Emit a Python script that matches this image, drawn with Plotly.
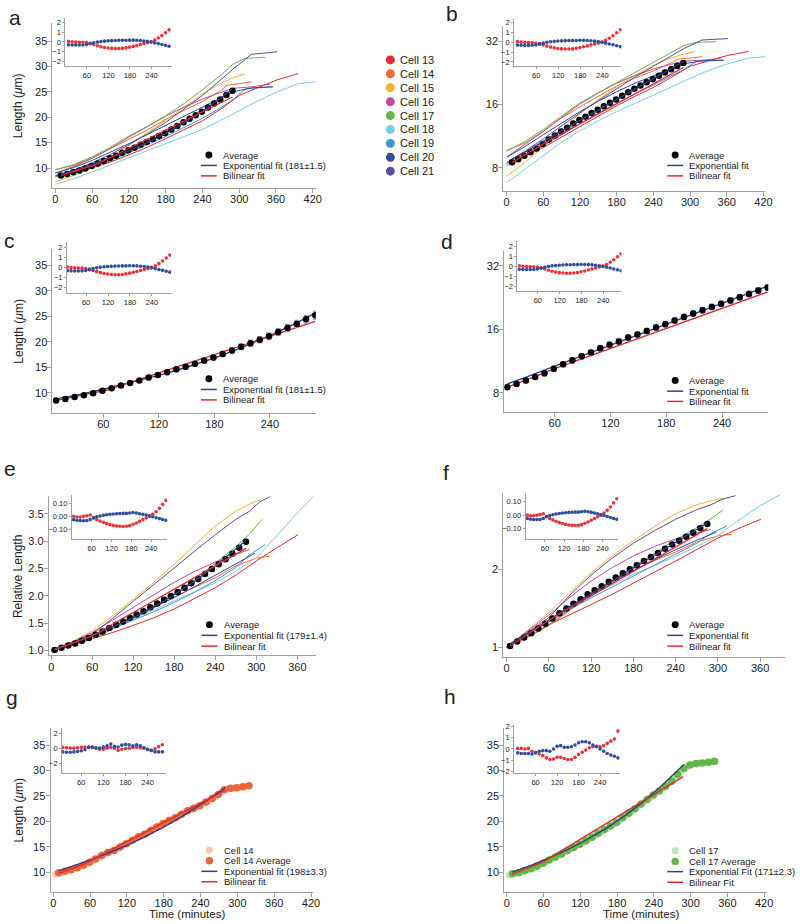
import math
import plotly.graph_objects as go

W, H = 800, 924
FONT = "Liberation Sans, Arial, Helvetica, sans-serif"
AXIS_GRAY = "#a0a0a0"
TXT = "#222222"
EXP_COLOR = "#2d3f8e"
BIL_COLOR = "#e5282d"
RES_RED = "#e8343c"
RES_BLUE = "#2f4ea0"

# ---------------- data ----------------
cell_names = ["Cell 13", "Cell 14", "Cell 15", "Cell 16", "Cell 17",
              "Cell 18", "Cell 19", "Cell 20", "Cell 21"]
cell_colors = ["#e8262b", "#ee6b33", "#f3b234", "#c14b9c", "#6ab344",
               "#7dcbea", "#3d93d3", "#2c4b9b", "#5b4d9f"]

# absolute length traces (panels a, b): time (min), length (um)
c13_t = [0, 30, 60, 90, 120, 150, 180, 210, 240, 270, 300, 330, 360, 396]
c13_len = [8.4, 9.1, 10.0, 11.2, 12.6, 14.1, 15.8, 17.5, 19.3, 21.6, 24.3, 25.8, 27.3, 28.6]
c14_t = [0, 30, 60, 90, 120, 150, 180, 210, 240, 270, 280, 300, 320]
c14_len = [9.7, 10.5, 12.0, 13.8, 15.6, 17.5, 19.6, 21.4, 23.1, 25.3, 26.3, 26.6, 27.0]
c15_t = [0, 30, 60, 90, 120, 150, 180, 210, 240, 270, 290, 308]
c15_len = [7.3, 8.5, 10.1, 12.2, 14.5, 16.9, 19.4, 22.0, 24.6, 26.7, 27.8, 28.5]
c16_t = [0, 30, 60, 90, 120, 150, 180, 210, 240, 270, 290, 320, 350]
c16_len = [9.0, 10.3, 11.9, 13.9, 16.1, 18.2, 20.2, 22.0, 23.6, 24.9, 25.7, 26.0, 26.5]
c17_t = [0, 30, 60, 90, 120, 150, 180, 210, 240, 270, 290, 310, 342]
c17_len = [9.6, 10.7, 12.2, 14.1, 16.3, 18.2, 20.3, 22.7, 25.4, 28.3, 30.5, 31.6, 31.8]
c18_t = [0, 30, 60, 90, 120, 150, 180, 210, 240, 270, 300, 330, 360, 396, 425]
c18_len = [6.8, 7.9, 9.2, 10.6, 12.0, 13.4, 14.8, 16.2, 17.6, 19.4, 21.3, 23.2, 24.9, 26.6, 27.0]
c19_t = [0, 30, 60, 90, 120, 150, 180, 210, 240, 270, 290, 310, 355]
c19_len = [8.2, 9.1, 10.2, 11.5, 13.0, 14.6, 16.2, 18.0, 19.8, 21.9, 23.5, 25.6, 26.0]
c20_t = [0, 30, 60, 90, 120, 150, 180, 210, 240, 270, 290, 320, 355]
c20_len = [9.0, 10.1, 11.5, 13.1, 14.8, 16.6, 18.4, 20.2, 22.0, 23.8, 25.0, 25.8, 26.0]
c21_t = [0, 30, 60, 90, 120, 150, 180, 210, 240, 270, 290, 320, 340, 362]
c21_len = [8.5, 9.6, 11.0, 12.7, 14.6, 16.7, 19.0, 21.6, 24.3, 27.4, 29.5, 32.4, 32.6, 32.9]

# relative length traces (panels e, f)
c13_rt = [0, 30, 60, 90, 120, 150, 180, 210, 240, 270, 300, 330, 361]
c13_rel = [1.0, 1.10, 1.22, 1.33, 1.46, 1.60, 1.76, 1.95, 2.15, 2.38, 2.64, 2.88, 3.12]
c14_rt = [0, 30, 60, 90, 120, 150, 180, 210, 240, 270, 300, 320]
c14_rel = [1.0, 1.09, 1.21, 1.39, 1.58, 1.78, 1.98, 2.16, 2.33, 2.55, 2.69, 2.73]
c15_rt = [0, 30, 60, 90, 120, 150, 180, 210, 240, 270, 290, 308]
c15_rel = [1.0, 1.16, 1.36, 1.63, 1.94, 2.25, 2.58, 2.93, 3.28, 3.55, 3.68, 3.77]
c16_rt = [0, 30, 60, 90, 120, 150, 180, 210, 240, 270, 290]
c16_rel = [1.0, 1.15, 1.33, 1.56, 1.80, 2.03, 2.25, 2.45, 2.62, 2.76, 2.85]
c17_rt = [0, 30, 60, 90, 120, 150, 180, 210, 240, 270, 290, 308]
c17_rel = [1.0, 1.10, 1.22, 1.40, 1.60, 1.81, 2.04, 2.30, 2.60, 2.90, 3.13, 3.40]
c18_rt = [0, 30, 60, 90, 120, 150, 180, 210, 240, 270, 300, 330, 360, 388]
c18_rel = [1.0, 1.13, 1.28, 1.43, 1.58, 1.74, 1.91, 2.07, 2.24, 2.45, 2.70, 3.10, 3.52, 3.88]
c19_rt = [0, 30, 60, 90, 120, 150, 180, 210, 240, 270, 290, 313]
c19_rel = [1.0, 1.12, 1.25, 1.40, 1.55, 1.71, 1.88, 2.07, 2.28, 2.52, 2.75, 2.94]
c20_rt = [0, 30, 60, 90, 120, 150, 180, 210, 240, 270, 298]
c20_rel = [1.0, 1.13, 1.27, 1.44, 1.62, 1.80, 1.97, 2.17, 2.38, 2.59, 2.78]
c21_rt = [0, 30, 60, 90, 120, 150, 180, 210, 240, 270, 290, 305, 325]
c21_rel = [1.0, 1.14, 1.30, 1.59, 1.90, 2.21, 2.52, 2.82, 3.12, 3.40, 3.55, 3.72, 3.85]

# average length (panels a-d)
avg_t = [9, 19, 29, 39, 49, 59, 69, 79, 89, 99, 109, 119, 129, 139, 149, 159, 169, 179,
         189, 199, 209, 219, 229, 239, 249, 259, 269, 279, 289]
avg_len = [8.5, 8.8, 9.15, 9.5, 9.9, 10.4, 10.9, 11.4, 11.9, 12.4, 13.0, 13.5, 14.0, 14.6,
           15.1, 15.7, 16.3, 16.9, 17.6, 18.3, 19.0, 19.7, 20.4, 21.1, 21.9, 22.7, 23.5, 24.4, 25.2]
avg_err = [0.2, 0.2, 0.25, 0.25, 0.3, 0.3, 0.3, 0.35, 0.35, 0.35, 0.4, 0.4, 0.4, 0.45, 0.45,
           0.45, 0.5, 0.5, 0.5, 0.55, 0.55, 0.6, 0.6, 0.65, 0.65, 0.7, 0.7, 0.75, 0.8]
exp_t = [9, 30, 60, 90, 120, 150, 180, 210, 240, 270, 289]
exp_len = [8.8, 9.5, 10.7, 12.0, 13.4, 15.0, 16.8, 18.9, 21.2, 23.8, 25.6]
bil_t = [9, 65, 289]
bil_len = [8.5, 10.6, 24.0]
res_bil = [0.05, 0.0, -0.02, -0.03, -0.05, -0.08, -0.15, -0.28, -0.4, -0.5, -0.58, -0.64, -0.68,
           -0.7, -0.7, -0.68, -0.62, -0.55, -0.47, -0.38, -0.28, -0.18, -0.08, 0.02, 0.18, 0.4,
           0.65, 0.95, 1.25]
res_exp = [-0.3, -0.32, -0.33, -0.33, -0.32, -0.28, -0.2, -0.1, -0.02, 0.04, 0.08, 0.11, 0.13,
           0.15, 0.16, 0.17, 0.17, 0.18, 0.18, 0.17, 0.14, 0.1, 0.05, -0.02, -0.1, -0.18, -0.27,
           -0.36, -0.45]

# relative average (panels e, f)
rel_t = [5, 15, 25, 35, 45, 55, 65, 75, 85, 95, 105, 115, 125, 135, 145, 155, 165, 175, 185,
         195, 205, 215, 225, 235, 245, 255, 265, 275, 285]
rel_avg = [1.01, 1.05, 1.09, 1.13, 1.18, 1.23, 1.29, 1.35, 1.41, 1.47, 1.53, 1.60, 1.66, 1.72,
           1.79, 1.86, 1.93, 2.00, 2.07, 2.15, 2.23, 2.31, 2.40, 2.49, 2.58, 2.67, 2.77, 2.88, 2.99]
rel_exp_t = [5, 30, 60, 90, 120, 150, 180, 210, 240, 270, 285]
rel_exp = [1.03, 1.13, 1.27, 1.43, 1.60, 1.80, 2.02, 2.27, 2.55, 2.86, 3.02]
rel_bil_t = [5, 60, 285]
rel_bil = [1.01, 1.27, 2.87]
rel_res_bil = [0.0, -0.005, -0.005, 0.0, 0.005, 0.01, -0.01, -0.025, -0.035, -0.045, -0.055,
               -0.062, -0.068, -0.072, -0.075, -0.076, -0.075, -0.07, -0.06, -0.05, -0.038,
               -0.025, -0.012, 0.0, 0.015, 0.035, 0.06, 0.09, 0.12]
rel_res_exp = [-0.025, -0.03, -0.032, -0.033, -0.032, -0.025, -0.012, -0.003, 0.003, 0.008,
               0.012, 0.016, 0.018, 0.02, 0.021, 0.022, 0.022, 0.025, 0.028, 0.025, 0.02, 0.015,
               0.01, 0.005, -0.003, -0.01, -0.017, -0.024, -0.03]

# cell 14 (panel g)
c14_avg_t = [9, 19, 29, 39, 49, 59, 69, 79, 89, 99, 109, 119, 129, 139, 149, 159, 169, 179,
             189, 199, 209, 219, 229, 239, 249, 259, 269, 279, 289, 299, 309, 319]
c14_avg = [9.9, 10.2, 10.5, 10.9, 11.4, 12.0, 12.6, 13.3, 13.9, 14.3, 15.0, 15.6, 16.3, 17.0,
           17.5, 18.2, 18.9, 19.6, 20.2, 20.7, 21.4, 22.1, 22.6, 23.1, 23.8, 24.5, 25.3, 26.2,
           26.5, 26.6, 26.8, 27.0]
c14_raw_t = [4, 14, 24, 34, 44, 54, 64, 74, 84, 94, 104, 114, 124, 134, 144, 154, 164, 174,
             184, 194, 204, 214, 224, 234, 244, 254, 264, 274, 284, 294, 304, 314]
c14_raw = [9.6, 10.0, 10.4, 10.7, 11.1, 11.7, 12.3, 12.9, 13.6, 14.1, 14.6, 15.3, 15.9, 16.7,
           17.2, 17.8, 18.6, 19.2, 19.9, 20.5, 21.0, 21.8, 22.3, 22.9, 23.4, 24.1, 24.9, 25.8,
           26.4, 26.5, 26.7, 26.9]
c14_exp_t = [9, 30, 60, 90, 120, 150, 180, 210, 240, 280]
c14_exp = [10.3, 11.1, 12.4, 13.8, 15.3, 17.0, 18.9, 21.0, 23.3, 26.6]
c14_bil_t = [9, 50, 280]
c14_bil = [9.8, 11.6, 26.1]
g_res_t = [10, 20, 30, 40, 50, 60, 70, 80, 90, 100, 110, 120, 130, 140, 150, 160, 170, 180,
           190, 200, 210, 220, 230, 240, 250, 260, 270, 280]
g_res_bil = [0.1, 0.05, 0.0, 0.0, 0.05, 0.1, 0.15, 0.15, 0.1, 0.0, -0.15, -0.15, 0.0, 0.1, 0.0,
             -0.3, -0.15, -0.05, 0.0, 0.1, 0.1, 0.05, 0.0, -0.2, -0.3, -0.1, 0.2, 0.45]
g_res_exp = [-0.5, -0.55, -0.55, -0.5, -0.45, -0.35, -0.2, 0.1, 0.15, 0.05, 0.0, 0.15, 0.3, 0.55,
             0.25, 0.15, 0.4, 0.5, 0.45, 0.3, 0.45, 0.3, 0.05, -0.15, -0.3, -0.5, -0.5, -0.5]

# cell 17 (panel h)
c17_avg_t = [9, 19, 29, 39, 49, 59, 69, 79, 89, 99, 109, 119, 129, 139, 149, 159, 169, 179,
             189, 199, 209, 219, 229, 239, 249, 259, 269, 279, 289, 299, 309, 319, 329, 339]
c17_avg = [9.7, 9.9, 10.3, 10.7, 11.2, 11.8, 12.4, 13.0, 13.6, 14.3, 14.9, 15.5, 16.2, 16.9,
           17.7, 18.4, 19.1, 19.8, 20.7, 21.6, 22.5, 23.4, 24.3, 25.2, 26.0, 26.9, 27.9, 29.2,
           30.4, 31.1, 31.4, 31.5, 31.6, 31.8]
c17_raw_t = [4, 14, 24, 34, 44, 54, 64, 74, 84, 94, 104, 114, 124, 134, 144, 154, 164, 174,
             184, 194, 204, 214, 224, 234, 244, 254, 264, 274, 284, 294, 304, 314, 324, 334]
c17_raw = [9.5, 9.8, 10.1, 10.5, 10.9, 11.5, 12.1, 12.7, 13.3, 14.0, 14.6, 15.2, 15.8, 16.5,
           17.2, 17.9, 18.6, 19.4, 20.2, 21.1, 22.0, 22.9, 23.8, 24.7, 25.6, 26.4, 27.4, 28.5,
           29.8, 30.8, 31.3, 31.5, 31.5, 31.7]
c17_exp_t = [9, 40, 70, 100, 130, 160, 190, 220, 250, 289]
c17_exp = [10.05, 11.4, 12.9, 14.5, 16.4, 18.5, 20.9, 23.6, 26.7, 31.2]
c17_bil_t = [8, 60, 288]
c17_bil = [9.6, 12.1, 28.8]
h_res_t = [10, 20, 30, 40, 50, 60, 70, 80, 90, 100, 110, 120, 130, 140, 150, 160, 170, 180,
           190, 200, 210, 220, 230, 240, 250, 260, 270, 280, 290]
h_res_bil = [0.05, 0.05, 0.0, 0.05, -0.2, -0.3, -0.45, -0.6, -0.8, -0.95, -0.9, -0.75, -0.75,
             -0.85, -0.95, -0.95, -0.75, -0.5, -0.3, -0.1, 0.1, 0.2, 0.25, 0.2, 0.3, 0.5, 0.7,
             0.9, 1.6]
h_res_exp = [-0.35, -0.4, -0.4, -0.4, -0.45, -0.35, -0.2, -0.15, -0.15, -0.2, 0.0, 0.25, 0.3,
             0.15, 0.15, 0.2, 0.35, 0.55, 0.65, 0.65, 0.55, 0.35, 0.2, 0.0, -0.2, -0.4, -0.55,
             -0.65, -0.8]

abs_t = [c13_t, c14_t, c15_t, c16_t, c17_t, c18_t, c19_t, c20_t, c21_t]
abs_len = [c13_len, c14_len, c15_len, c16_len, c17_len, c18_len, c19_len, c20_len, c21_len]
rel_tt = [c13_rt, c14_rt, c15_rt, c16_rt, c17_rt, c18_rt, c19_rt, c20_rt, c21_rt]
rel_len = [c13_rel, c14_rel, c15_rel, c16_rel, c17_rel, c18_rel, c19_rel, c20_rel, c21_rel]

# ---------------- figure ----------------
fig = go.Figure()


def ids(i):
    return ("x" if i == 1 else f"x{i}"), ("y" if i == 1 else f"y{i}")


def add(trace, i):
    xa, ya = ids(i)
    trace.update(xaxis=xa, yaxis=ya, showlegend=False, hoverinfo="skip")
    fig.add_trace(trace)


def line(x, y, color, width=1.0):
    return go.Scatter(x=x, y=y, mode="lines", line=dict(color=color, width=width))


def dots(x, y, color, size, err=None):
    kw = {}
    if err is not None:
        kw["error_y"] = dict(type="data", array=err, color="#8e9fcf", thickness=1.3, width=2.5)
    return go.Scatter(x=x, y=y, mode="markers", marker=dict(color=color, size=size), **kw)


# panels a (1) and b (2): all cells + average + fits
for p in (1, 2):
    for k in range(9):
        add(line(abs_t[k], abs_len[k], cell_colors[k], 1.0), p)
    add(dots(avg_t, avg_len, "black", 6.5), p)
    add(line(exp_t, exp_len, EXP_COLOR, 1.3), p)
    add(line(bil_t, bil_len, BIL_COLOR, 1.3), p)

# panels c (3) and d (4): average with error bars + fits
for p in (3, 4):
    add(line(exp_t, exp_len, EXP_COLOR, 1.4), p)
    add(line(bil_t, bil_len, BIL_COLOR, 1.4), p)
    add(dots(avg_t, avg_len, "black", 6.5, avg_err), p)

# panels e (5) and f (6): relative
for p in (5, 6):
    for k in range(9):
        add(line(rel_tt[k], rel_len[k], cell_colors[k], 1.0), p)
    add(dots(rel_t, rel_avg, "black", 6.5), p)
    add(line(rel_exp_t, rel_exp, EXP_COLOR, 1.3), p)
    add(line(rel_bil_t, rel_bil, BIL_COLOR, 1.3), p)

# panel g (7)
add(dots(c14_raw_t, c14_raw, "#f8c9b4", 7), 7)
add(dots(c14_avg_t, c14_avg, "#e9673a", 7.5), 7)
add(line(c14_exp_t, c14_exp, EXP_COLOR, 1.4), 7)
add(line(c14_bil_t, c14_bil, BIL_COLOR, 1.4), 7)

# panel h (8)
add(dots(c17_raw_t, c17_raw, "#c2e4b4", 7), 8)
add(dots(c17_avg_t, c17_avg, "#62b846", 7.5), 8)
add(line(c17_exp_t, c17_exp, EXP_COLOR, 1.4), 8)
add(line(c17_bil_t, c17_bil, BIL_COLOR, 1.4), 8)

# insets
for p in (9, 10, 11, 12):
    add(dots(avg_t, res_bil, RES_RED, 3.6), p)
    add(dots(avg_t, res_exp, RES_BLUE, 3.6), p)
for p in (13, 14):
    add(dots(rel_t, rel_res_bil, RES_RED, 3.6), p)
    add(dots(rel_t, rel_res_exp, RES_BLUE, 3.6), p)
add(dots(g_res_t, g_res_bil, RES_RED, 3.6), 15)
add(dots(g_res_t, g_res_exp, RES_BLUE, 3.6), 15)
add(dots(h_res_t, h_res_bil, RES_RED, 3.6), 16)
add(dots(h_res_t, h_res_exp, RES_BLUE, 3.6), 16)

# ---------------- axes ----------------
main_font = dict(family=FONT, size=11, color=TXT)
inset_font = dict(family=FONT, size=7.5, color=TXT)


def axis(dom_px, rng, anchor, tickvals, horizontal, log=False, small=False, fmt=None):
    if horizontal:
        dom = [dom_px[0] / W, dom_px[1] / W]
    else:
        dom = [1 - dom_px[1] / H, 1 - dom_px[0] / H]
    d = dict(domain=dom, range=rng, anchor=anchor, showline=True, linecolor=AXIS_GRAY,
             linewidth=1, ticks="outside", ticklen=2 if small else 4, tickcolor=AXIS_GRAY,
             tickwidth=1, showgrid=False, zeroline=False, tickmode="array",
             tickvals=tickvals, tickfont=inset_font if small else main_font,
             fixedrange=True)
    if not small:
        d["ticklabelstandoff"] = -3 if horizontal else -2
    if log:
        d["type"] = "log"
    if fmt:
        d["tickformat"] = fmt
    return d


L10 = math.log10
t_full = [0, 60, 120, 180, 240, 300, 360, 420]
t_mid = [60, 120, 180, 240]
t_rel = [0, 60, 120, 180, 240, 300, 360]
len_ticks = [10, 15, 20, 25, 30, 35]

specs = {
    # i: (xdom, xrange, xticks, ydom, yrange, yticks, ylog, small, yfmt)
    1: ((52, 318), [-4.8, 425], t_full, (20, 186), [6.1, 38.6], len_ticks, False, False, None),
    2: ((507.3, 772), [-5.5, 423], t_full, (23.3, 189.3), [L10(6.21), L10(37.7)], [8, 16, 32], True, False, None),
    3: ((52, 318), [5.1, 289.6], t_mid, (248, 412.7), [6.03, 38.1], len_ticks, False, False, None),
    4: ((508.3, 775), [5.7, 289.7], t_mid, (250, 411.7), [L10(6.48), L10(37.4)], [8, 16, 32], True, False, None),
    5: ((48.3, 318.3), [-3.5, 387.5], t_rel, (496.7, 656.7), [0.91, 3.82], [1.0, 1.5, 2.0, 2.5, 3.0, 3.5], False, False, ".1f"),
    6: ((507.3, 791.7), [-4.8, 395], t_rel, (493.3, 658.3), [L10(0.915), L10(3.94)], [1, 2], True, False, None),
    7: ((50, 315), [-4.4, 423], t_full, (730, 895), [6.1, 38.3], len_ticks, False, False, None),
    8: ((508.3, 773.3), [-4.4, 424], t_full, (730, 895), [6.1, 38.3], len_ticks, False, False, None),
    9: ((65, 173), [0, 298], t_mid, (15, 63.3), [-2.5, 2.5], [-2, -1, 0, 1, 2], False, True, None),
    10: ((518.3, 626.7), [0, 292], t_mid, (16, 63.3), [-2.4, 2.35], [-2, -1, 0, 1, 2], False, True, None),
    11: ((66.7, 171.7), [8, 292], t_mid, (241, 291.7), [-2.5, 2.5], [-2, -1, 0, 1, 2], False, True, None),
    12: ((521.7, 626.7), [4, 290], t_mid, (240, 290), [-2.5, 2.5], [-2, -1, 0, 1, 2], False, True, None),
    13: ((71.7, 168), [0, 289], t_mid, (495, 540), [-0.174, 0.162], [-0.1, 0.0, 0.1], False, True, ".2f"),
    14: ((530, 623.3), [0, 289], t_mid, (493.3, 539.3), [-0.174, 0.162], [-0.1, 0.0, 0.1], False, True, ".2f"),
    15: ((61.7, 166.7), [8, 290], t_mid, (730, 775), [-3.33, 2.67], [-2, 0, 2], False, True, None),
    16: ((518.3, 625), [0, 295], t_mid, (726.7, 775), [-2.15, 2.15], [-2, -1, 0, 1, 2], False, True, None),
}

layout_axes = {}
for i, (xd, xr, xt, yd, yr, yt, ylog, small, yfmt) in specs.items():
    xa, ya = ids(i)
    xkey = "xaxis" if i == 1 else f"xaxis{i}"
    ykey = "yaxis" if i == 1 else f"yaxis{i}"
    layout_axes[xkey] = axis(xd, xr, ya, xt, True, small=small)
    layout_axes[ykey] = axis(yd, yr, xa, yt, False, log=ylog, small=small, fmt=yfmt)

# ---------------- annotations & legend glyphs ----------------
annotations = []
shapes = []


def text(x, y, s, size, xanchor="left", yanchor="middle", angle=0, color=TXT):
    annotations.append(dict(x=x / W, y=1 - y / H, xref="paper", yref="paper", text=s,
                            showarrow=False, xanchor=xanchor, yanchor=yanchor,
                            textangle=angle, font=dict(family=FONT, size=size, color=color)))


def glyph_dot(x, y, color, d):
    shapes.append(dict(type="circle", xref="paper", yref="paper",
                       x0=(x - d / 2) / W, x1=(x + d / 2) / W,
                       y0=1 - (y + d / 2) / H, y1=1 - (y - d / 2) / H,
                       fillcolor=color, line=dict(width=0)))


def glyph_line(x0, x1, y, color):
    shapes.append(dict(type="line", xref="paper", yref="paper",
                       x0=x0 / W, x1=x1 / W, y0=1 - y / H, y1=1 - y / H,
                       line=dict(color=color, width=1.5)))


# panel letters
for s, x, y in [("a", 14, 14.5), ("b", 456, 10.5), ("c", 9, 239), ("d", 451, 240.5),
                ("e", 9, 469), ("f", 449, 473), ("g", 11, 699), ("h", 454, 698)]:
    text(x, y, s, 21, xanchor="center")

# axis titles
text(18, 103, "Length (<i>μ</i>m)", 12, xanchor="center", angle=-90)
text(18, 330, "Length (<i>μ</i>m)", 12, xanchor="center", angle=-90)
text(17, 577, "Relative Length", 12, xanchor="center", angle=-90)
text(18, 812, "Length (<i>μ</i>m)", 12, xanchor="center", angle=-90)
text(188, 917, "Time (minutes)", 11.5, xanchor="center")
text(646, 917, "Time (minutes)", 11.5, xanchor="center")

# cell legend
for k in range(9):
    yy = 57.3 + 14 * k
    glyph_dot(393.3, yy, cell_colors[k], 9)
    text(401, yy, cell_names[k], 11)


def fit_legend(xs, xt, ys, labels, kinds):
    for (kind, yy, lab) in zip(kinds, ys, labels):
        if kind[0] == "dot":
            glyph_dot(xs, yy, kind[1], kind[2])
        else:
            glyph_line(xs - 8, xs + 8, yy, kind[1])
        text(xt, yy, lab, 9.5)


std_kinds = [("dot", "black", 7), ("line", EXP_COLOR), ("line", BIL_COLOR)]
fit_legend(210, 222, [153, 163.5, 174], ["Average", "Exponential fit (181±1.5)", "Bilinear fit"], std_kinds)
fit_legend(681, 693, [153, 163.5, 174], ["Average", "Exponential fit", "Bilinear fit"], std_kinds)
fit_legend(210, 222, [378.3, 389, 399.5], ["Average", "Exponential fit (181±1.5)", "Bilinear fit"], std_kinds)
fit_legend(681, 693, [380, 390.7, 401], ["Average", "Exponential fit", "Bilinear fit"], std_kinds)
fit_legend(210.5, 223, [625.7, 636.5, 647.3], ["Average", "Exponential fit (179±1.4)", "Bilinear fit"], std_kinds)
fit_legend(681, 693, [625.7, 636.5, 647.3], ["Average", "Exponential fit", "Bilinear fit"], std_kinds)
fit_legend(210.5, 223, [852.7, 863.3, 874, 884.5],
           ["Cell 14", "Cell 14 Average", "Exponential fit (198±3.3)", "Bilinear fit"],
           [("dot", "#f8c9b4", 7), ("dot", "#e9673a", 7.5), ("line", EXP_COLOR), ("line", BIL_COLOR)])
fit_legend(681, 693, [853.3, 864, 874.3, 885],
           ["Cell 17", "Cell 17 Average", "Exponential Fit (171±2.3)", "Bilinear Fit"],
           [("dot", "#c2e4b4", 7), ("dot", "#62b846", 7.5), ("line", EXP_COLOR), ("line", BIL_COLOR)])

fig.update_layout(
    width=W, height=H, autosize=False,
    margin=dict(l=0, r=0, t=0, b=0, pad=0),
    paper_bgcolor="white", plot_bgcolor="rgba(0,0,0,0)",
    showlegend=False,
    font=dict(family=FONT, size=11, color=TXT),
    annotations=annotations, shapes=shapes,
    **layout_axes,
)

fig.write_html("out.html", config={"displayModeBar": False, "staticPlot": True},
               post_script="document.body.style.margin='0px';document.body.style.overflow='hidden';")
